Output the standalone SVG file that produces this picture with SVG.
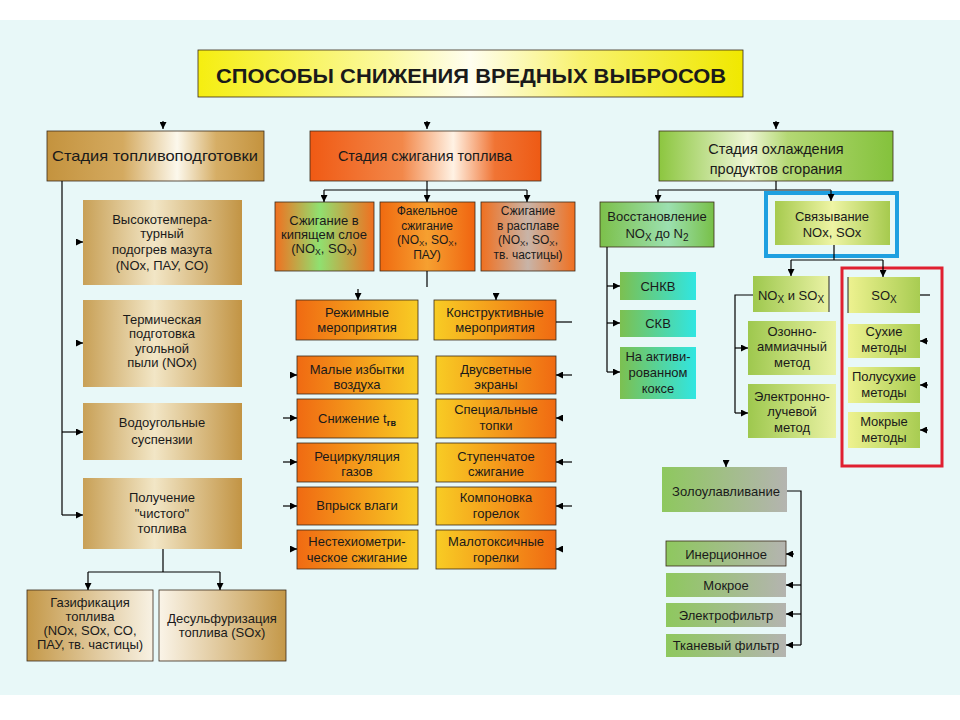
<svg xmlns="http://www.w3.org/2000/svg" width="960" height="720" viewBox="0 0 960 720">
<defs>
<style>
.t{font-family:"Liberation Sans",Arial,sans-serif;font-size:13px;text-anchor:middle;fill:#1a1a1a}
.s{font-size:14.5px}
.m{font-size:12px}
.c{stroke:#000;stroke-width:1.2;fill:none}
.a{stroke:#000;stroke-width:1.2;fill:none;marker-end:url(#ah)}
.b{stroke:#3a2a1a;stroke-width:0.8}
</style>
<marker id="ah" viewBox="0 0 10 10" refX="10" refY="5" markerWidth="7" markerHeight="7" orient="auto" markerUnits="userSpaceOnUse"><path d="M0,0 L10,5 L0,10 z" fill="#000"/></marker>
<linearGradient id="gTitle" x1="0" x2="1" y1="0" y2="0"><stop offset="0" stop-color="#f5ee10"/><stop offset="0.35" stop-color="#fbf9a0"/><stop offset="0.5" stop-color="#fffef0"/><stop offset="0.7" stop-color="#f8f270"/><stop offset="1" stop-color="#f0e800"/></linearGradient>
<linearGradient id="gGoldS" x1="0" x2="1"><stop offset="0" stop-color="#c4933e"/><stop offset="0.35" stop-color="#d4aa60"/><stop offset="0.6" stop-color="#fcf8ec"/><stop offset="0.78" stop-color="#d6ae66"/><stop offset="1" stop-color="#c4933e"/></linearGradient>
<linearGradient id="gGold" x1="0" x2="1"><stop offset="0" stop-color="#c8a056"/><stop offset="0.45" stop-color="#f2e6c6"/><stop offset="1" stop-color="#c29444"/></linearGradient>
<linearGradient id="gGoldL" x1="0" x2="1"><stop offset="0" stop-color="#c49848"/><stop offset="1" stop-color="#f8f2e4"/></linearGradient>
<linearGradient id="gGoldR" x1="0" x2="1"><stop offset="0" stop-color="#faf4e8"/><stop offset="1" stop-color="#c49848"/></linearGradient>
<linearGradient id="gOrS" x1="0" x2="1"><stop offset="0" stop-color="#f05a14"/><stop offset="0.4" stop-color="#f2884a"/><stop offset="0.62" stop-color="#fff2e4"/><stop offset="0.8" stop-color="#f07434"/><stop offset="1" stop-color="#ee5a14"/></linearGradient>
<linearGradient id="gOrG" x1="0" x2="1"><stop offset="0" stop-color="#f07020"/><stop offset="0.45" stop-color="#90e070"/><stop offset="1" stop-color="#f07020"/></linearGradient>
<linearGradient id="gOrY" x1="0" x2="1"><stop offset="0" stop-color="#f06a10"/><stop offset="0.5" stop-color="#f6a030"/><stop offset="1" stop-color="#f06410"/></linearGradient>
<linearGradient id="gOrGr" x1="0" x2="1"><stop offset="0" stop-color="#f07020"/><stop offset="0.5" stop-color="#c8b4a8"/><stop offset="1" stop-color="#f07020"/></linearGradient>
<linearGradient id="gOY" x1="0" x2="1"><stop offset="0" stop-color="#f06a12"/><stop offset="1" stop-color="#f8cc24"/></linearGradient>
<linearGradient id="gYO" x1="0" x2="1"><stop offset="0" stop-color="#f8cc24"/><stop offset="1" stop-color="#f06a12"/></linearGradient>
<linearGradient id="gGrS" x1="0" x2="1"><stop offset="0" stop-color="#8cc63f"/><stop offset="0.38" stop-color="#eef6d6"/><stop offset="0.55" stop-color="#b4d874"/><stop offset="1" stop-color="#84c23c"/></linearGradient>
<linearGradient id="gGrC" x1="0" x2="1"><stop offset="0" stop-color="#7cc04a"/><stop offset="0.6" stop-color="#9ce0b0"/><stop offset="1" stop-color="#78c048"/></linearGradient>
<linearGradient id="gGrYm" x1="0" x2="1"><stop offset="0" stop-color="#a6ca4e"/><stop offset="0.5" stop-color="#eef4a4"/><stop offset="1" stop-color="#a6ca4e"/></linearGradient>
<linearGradient id="gCy" x1="0" x2="1"><stop offset="0" stop-color="#7cc050"/><stop offset="1" stop-color="#30e6e2"/></linearGradient>
<linearGradient id="gGY" x1="0" x2="1"><stop offset="0" stop-color="#9ec84e"/><stop offset="1" stop-color="#eaf2a4"/></linearGradient>
<linearGradient id="gYG" x1="0" x2="1"><stop offset="0" stop-color="#eef290"/><stop offset="1" stop-color="#a8cc52"/></linearGradient>
<linearGradient id="gGG" x1="0" x2="1"><stop offset="0" stop-color="#8ec85e"/><stop offset="1" stop-color="#b4b4b0"/></linearGradient>
</defs>
<rect x="0" y="0" width="960" height="720" fill="#ffffff"/>
<rect x="0" y="20" width="960" height="675" fill="#e8f8f8"/>

<g id="title"><rect x="198" y="50" width="545" height="47" fill="url(#gTitle)" class="b"/>
<text x="471" y="83" class="t" style="font-weight:bold;font-size:21px" textLength="510" lengthAdjust="spacingAndGlyphs">СПОСОБЫ  СНИЖЕНИЯ  ВРЕДНЫХ  ВЫБРОСОВ</text></g>

<g id="stage1"><rect x="47" y="131" width="217" height="50" fill="url(#gGoldS)" class="b"/><text x="155" y="161" class="t s" textLength="206" lengthAdjust="spacingAndGlyphs">Стадия топливоподготовки</text></g>
<g id="stage2"><rect x="310" y="131" width="231" height="50" fill="url(#gOrS)" class="b"/><text x="425" y="161" class="t s">Стадия сжигания топлива</text></g>
<g id="stage3"><rect x="659" y="131" width="234" height="50" fill="url(#gGrS)" class="b"/><text x="776" y="154" class="t s">Стадия охлаждения</text><text x="776" y="174" class="t s">продуктов сгорания</text></g>

<g id="a1"><rect x="83" y="200" width="159" height="85" fill="url(#gGold)"/><text class="t" x="162" y="224">Высокотемпера-</text><text class="t" x="162" y="238">турный</text><text class="t" x="162" y="254">подогрев мазута</text><text class="t" x="162" y="270">(NOx, ПАУ, CO)</text></g>
<g id="a2"><rect x="83" y="300" width="159" height="87" fill="url(#gGold)"/><text class="t" x="162" y="324">Термическая</text><text class="t" x="162" y="338">подготовка</text><text class="t" x="162" y="353">угольной</text><text class="t" x="162" y="367">пыли (NOx)</text></g>
<g id="a3"><rect x="83" y="403" width="159" height="57" fill="url(#gGold)"/><text class="t" x="162" y="427">Водоугольные</text><text class="t" x="162" y="444">суспензии</text></g>
<g id="a4"><rect x="83" y="478" width="159" height="71" fill="url(#gGold)"/><text class="t" x="162" y="502">Получение</text><text class="t" x="162" y="518">"чистого"</text><text class="t" x="162" y="533">топлива</text></g>
<g id="a5"><rect x="27" y="590" width="126" height="71" fill="url(#gGoldL)" class="b"/><text class="t" x="90" y="607">Газификация</text><text class="t" x="90" y="621">топлива</text><text class="t" x="90" y="635">(NOx, SOx, CO,</text><text class="t" x="90" y="649">ПАУ, тв. частицы)</text></g>
<g id="a6"><rect x="159" y="590" width="127" height="71" fill="url(#gGoldR)" class="b"/><text class="t" x="222" y="623">Десульфуризация</text><text class="t" x="222" y="637">топлива (SOx)</text></g>

<g id="b1"><rect x="275" y="202" width="99" height="69" fill="url(#gOrG)" class="b"/><text class="t" x="324" y="225">Сжигание в</text><text class="t" x="324" y="239">кипящем слое</text><text class="t" x="324" y="253">(NO<tspan font-size="8.5" dy="2">X</tspan><tspan dy="-2">, SO</tspan><tspan font-size="8.5" dy="2">X</tspan><tspan dy="-2">)</tspan></text></g>
<g id="b2"><rect x="380" y="202" width="95" height="69" fill="url(#gOrY)" class="b"/><text class="t m" x="427" y="215">Факельное</text><text class="t m" x="427" y="229.5">сжигание</text><text class="t m" x="427" y="244">(NO<tspan font-size="8" dy="1.5">X</tspan><tspan dy="-1.5">, SO</tspan><tspan font-size="8" dy="1.5">X</tspan><tspan dy="-1.5">,</tspan></text><text class="t m" x="427" y="258.5">ПАУ)</text></g>
<g id="b3"><rect x="481" y="202" width="94" height="69" fill="url(#gOrGr)" class="b"/><text class="t m" x="528" y="215">Сжигание</text><text class="t m" x="528" y="229.5">в расплаве</text><text class="t m" x="528" y="244">(NO<tspan font-size="8" dy="1.5">X</tspan><tspan dy="-1.5">, SO</tspan><tspan font-size="8" dy="1.5">X</tspan><tspan dy="-1.5">,</tspan></text><text class="t m" x="528" y="258.5">тв. частицы)</text></g>
<g id="b4"><rect x="296" y="300" width="122" height="40" fill="url(#gOY)" class="b"/><text class="t" x="357" y="317">Режимные</text><text class="t" x="357" y="332">мероприятия</text></g>
<g id="b5"><rect x="434" y="300" width="122" height="40" fill="url(#gYO)" class="b"/><text class="t" x="495" y="317">Конструктивные</text><text class="t" x="495" y="332">мероприятия</text></g>

<g id="l1"><rect x="297" y="356" width="121" height="38" fill="url(#gOY)" class="b"/><text class="t" x="357" y="374">Малые избытки</text><text class="t" x="357" y="389">воздуха</text></g>
<g id="l2"><rect x="297" y="399" width="121" height="39" fill="url(#gOY)" class="b"/><text class="t" x="357" y="423">Снижение t<tspan font-size="9" font-weight="bold" dy="3">гв</tspan></text></g>
<g id="l3"><rect x="297" y="443" width="121" height="39" fill="url(#gOY)" class="b"/><text class="t" x="357" y="461">Рециркуляция</text><text class="t" x="357" y="476">газов</text></g>
<g id="l4"><rect x="297" y="487" width="121" height="38" fill="url(#gOY)" class="b"/><text class="t" x="357" y="510">Впрыск влаги</text></g>
<g id="l5"><rect x="297" y="530" width="121" height="39" fill="url(#gOY)" class="b"/><text class="t" x="357" y="546">Нестехиометри-</text><text class="t" x="357" y="562">ческое сжигание</text></g>
<g id="r1"><rect x="436" y="356" width="120" height="38" fill="url(#gYO)" class="b"/><text class="t" x="496" y="374">Двусветные</text><text class="t" x="496" y="389">экраны</text></g>
<g id="r2"><rect x="436" y="399" width="120" height="39" fill="url(#gYO)" class="b"/><text class="t" x="496" y="414">Специальные</text><text class="t" x="496" y="430">топки</text></g>
<g id="r3"><rect x="436" y="443" width="120" height="39" fill="url(#gYO)" class="b"/><text class="t" x="496" y="461">Ступенчатое</text><text class="t" x="496" y="476">сжигание</text></g>
<g id="r4"><rect x="436" y="487" width="120" height="38" fill="url(#gYO)" class="b"/><text class="t" x="496" y="502">Компоновка</text><text class="t" x="496" y="518">горелок</text></g>
<g id="r5"><rect x="436" y="530" width="120" height="39" fill="url(#gYO)" class="b"/><text class="t" x="496" y="546">Малотоксичные</text><text class="t" x="496" y="562">горелки</text></g>

<g id="c1"><rect x="600" y="202" width="114" height="45" fill="url(#gGrC)" class="b"/><text class="t" x="657" y="221">Восстановление</text><text class="t" x="657" y="238">NO<tspan font-size="10" dy="3">X</tspan><tspan dy="-3"> до N</tspan><tspan font-size="10" dy="3">2</tspan></text></g>
<g id="c2"><rect x="775" y="201" width="115" height="44" fill="url(#gGrYm)"/><text class="t" x="832" y="221">Связывание</text><text class="t" x="832" y="237">NOx, SOx</text></g>
<g id="c3"><rect x="620" y="272" width="76" height="28" fill="url(#gCy)"/><text class="t" x="658" y="291">СНКВ</text></g>
<g id="c4"><rect x="620" y="310" width="76" height="27" fill="url(#gCy)"/><text class="t" x="658" y="328">СКВ</text></g>
<g id="c5"><rect x="620" y="347" width="76" height="52" fill="url(#gCy)"/><text class="t" x="658" y="361">На активи-</text><text class="t" x="658" y="377">рованном</text><text class="t" x="658" y="393">коксе</text></g>
<g id="c6"><rect x="753" y="276" width="76" height="36" fill="url(#gGY)"/><line x1="829" y1="276" x2="829" y2="312" stroke="#222" stroke-width="1"/><text class="t" x="791" y="300">NO<tspan font-size="10" dy="3">X</tspan><tspan dy="-3"> и SO</tspan><tspan font-size="10" dy="3">X</tspan></text></g>
<g id="c7"><rect x="848" y="277" width="72" height="36" fill="url(#gYG)"/><line x1="848" y1="277" x2="848" y2="313" stroke="#222" stroke-width="1"/><text class="t" x="884" y="300">SO<tspan font-size="10" dy="3">X</tspan></text></g>
<g id="c8"><rect x="748" y="321" width="88" height="54" fill="url(#gGY)"/><text class="t" x="792" y="336">Озонно-</text><text class="t" x="792" y="351">аммиачный</text><text class="t" x="792" y="367">метод</text></g>
<g id="c9"><rect x="748" y="384" width="88" height="54" fill="url(#gGY)"/><text class="t" x="792" y="401">Электронно-</text><text class="t" x="792" y="416">лучевой</text><text class="t" x="792" y="432">метод</text></g>
<g id="c10"><rect x="848" y="324" width="72" height="34" fill="url(#gYG)"/><text class="t" x="884" y="336">Сухие</text><text class="t" x="884" y="352">методы</text></g>
<g id="c11"><rect x="848" y="367" width="72" height="36" fill="url(#gYG)"/><text class="t" x="884" y="381">Полусухие</text><text class="t" x="884" y="397">методы</text></g>
<g id="c12"><rect x="848" y="412" width="72" height="36" fill="url(#gYG)"/><text class="t" x="884" y="426">Мокрые</text><text class="t" x="884" y="442">методы</text></g>
<g id="d1"><rect x="662" y="467" width="125" height="45" fill="url(#gGG)"/><text class="t" x="726" y="496">Золоулавливание</text></g>
<g id="d2"><rect x="666" y="541" width="120" height="25" fill="url(#gGG)" class="b"/><text class="t" x="726" y="559">Инерционное</text></g>
<g id="d3"><rect x="666" y="573" width="120" height="24" fill="url(#gGG)"/><text class="t" x="726" y="590">Мокрое</text></g>
<g id="d4"><rect x="666" y="603" width="120" height="24" fill="url(#gGG)"/><text class="t" x="726" y="620">Электрофильтр</text></g>
<g id="d5"><rect x="666" y="634" width="120" height="23" fill="url(#gGG)"/><text class="t" x="726" y="650">Тканевый фильтр</text></g>

<g id="highlights"><rect x="766" y="193" width="131" height="63" fill="none" stroke="#1ea0e0" stroke-width="4"/><rect x="842" y="268" width="100" height="198" fill="none" stroke="#e02030" stroke-width="3"/></g>

<g id="connectors">
<line class="a" x1="163" y1="121" x2="163" y2="129"/>
<line class="a" x1="427" y1="121" x2="427" y2="129"/>
<line class="a" x1="776" y1="121" x2="776" y2="129"/>
<line class="c" x1="62" y1="181" x2="62" y2="515"/>
<line class="a" x1="76" y1="242" x2="83" y2="242"/>
<line class="a" x1="76" y1="343" x2="83" y2="343"/>
<path class="a" d="M62,432 H83"/>
<path class="a" d="M62,515 H83"/>
<path class="c" d="M163,549 V572 M88,572 H220"/>
<path class="a" d="M88,572 V590"/>
<path class="a" d="M220,572 V590"/>
<path class="c" d="M427,181 V190 M324,190 H527"/>
<path class="a" d="M324,190 V202"/>
<path class="a" d="M427,190 V202"/>
<path class="a" d="M527,190 V202"/>
<path class="c" d="M427,271 V287"/>
<path class="a" d="M358,289 V300"/>
<path class="a" d="M496,293 V300"/>
<path class="c" d="M556,322 H572"/>
<path class="a" d="M290,375 H297"/>
<path class="a" d="M283,418 H297"/>
<path class="a" d="M283,462 H297"/>
<path class="a" d="M283,506 H297"/>
<path class="a" d="M290,549 H297"/>
<path class="a" d="M572,375 H556"/>
<path class="a" d="M563,418 H556"/>
<path class="a" d="M572,462 H556"/>
<path class="a" d="M572,506 H556"/>
<path class="a" d="M563,549 H556"/>
<path class="c" d="M776,181 V190 M658,190 H831"/>
<path class="a" d="M658,190 V202"/>
<path class="a" d="M831,190 V201"/>
<path class="c" d="M607,247 V372"/>
<path class="a" d="M607,286 H620"/>
<path class="a" d="M607,323 H620"/>
<path class="a" d="M607,372 H620"/>
<path class="c" d="M834,245 V260 M791,260 H883"/>
<path class="a" d="M791,260 V276"/>
<path class="a" d="M883,260 V277"/>
<path class="c" d="M753,295 H735 V413"/>
<path class="a" d="M735,348 H748"/>
<path class="a" d="M735,413 H748"/>
<path class="c" d="M920,295 H930"/>
<path class="a" d="M928,341 H920"/>
<path class="a" d="M928,385 H920"/>
<path class="a" d="M928,430 H920"/>
<path class="a" d="M726,460 V467"/>
<path class="c" d="M787,491 H801 V645"/>
<path class="a" d="M794,554 H786"/>
<path class="a" d="M801,585 H786"/>
<path class="a" d="M801,614 H786"/>
<path class="a" d="M801,645 H786"/>
</g>
</svg>
